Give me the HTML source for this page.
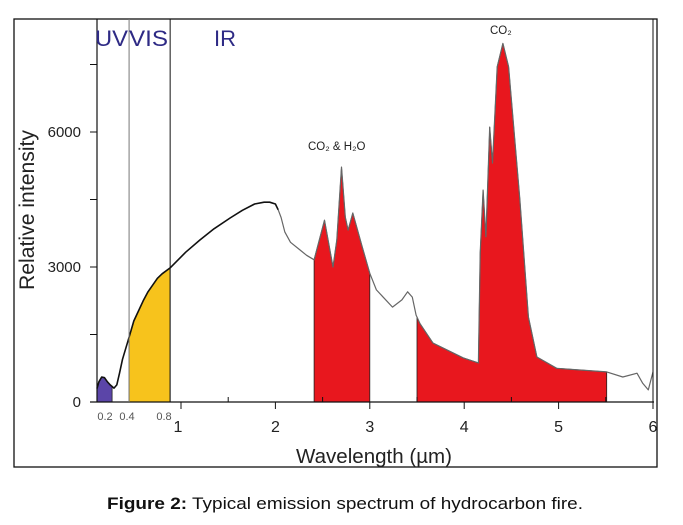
<!DOCTYPE html>
<html><head><meta charset="utf-8"><style>
body{margin:0;background:#fff;width:683px;height:525px;overflow:hidden;font-family:"Liberation Sans",Arial,sans-serif}
svg{position:absolute;left:0;top:0}
</style></head><body>
<svg id="chart" width="683" height="525" viewBox="0 0 683 525" xmlns="http://www.w3.org/2000/svg">
<rect x="14" y="19" width="643" height="448" fill="none" stroke="#111" stroke-width="1.3"/>
<g id="fills"></g>
<g id="curve"></g>
<g id="axes"></g>
<text x="95" y="46" font-size="22" fill="#2e2a85" textLength="33" lengthAdjust="spacingAndGlyphs">UV</text>
<text x="129" y="46" font-size="22" fill="#2e2a85" textLength="39" lengthAdjust="spacingAndGlyphs">VIS</text>
<text x="214" y="46" font-size="22" fill="#2e2a85">IR</text>
<text x="308" y="150" font-size="11.5" fill="#222">CO₂ &amp; H₂O</text>
<text x="490" y="34" font-size="11.5" fill="#222">CO₂</text>
<text transform="translate(34,210) rotate(-90)" text-anchor="middle" font-size="21" fill="#222" textLength="160" lengthAdjust="spacingAndGlyphs">Relative intensity</text>
<text x="374" y="463" text-anchor="middle" font-size="20" fill="#222" textLength="156" lengthAdjust="spacingAndGlyphs">Wavelength (µm)</text>
<text x="107" y="509" font-size="17" fill="#111" textLength="476" lengthAdjust="spacingAndGlyphs"><tspan font-weight="bold">Figure 2:</tspan> Typical emission spectrum of hydrocarbon fire.</text>
</svg>
<script>
const wl=[0.11,0.13,0.16,0.19,0.22,0.25,0.29,0.32,0.35,0.38,0.45,0.5,0.6,0.65,0.75,0.8,0.885,1.05,1.2,1.35,1.52,1.65,1.78,1.88,1.94,2.0,2.03,2.06,2.1,2.16,2.26,2.33,2.41,2.52,2.61,2.65,2.70,2.74,2.77,2.82,2.92,3.0,3.07,3.24,3.34,3.40,3.45,3.49,3.53,3.67,3.99,4.15,4.17,4.20,4.23,4.27,4.30,4.35,4.41,4.47,4.59,4.68,4.77,4.98,5.51,5.68,5.83,5.89,5.95,6.0];
const intensity=[300,450,555,540,450,380,310,380,650,950,1440,1800,2250,2450,2750,2850,2980,3330,3600,3850,4090,4260,4400,4440,4440,4400,4270,4100,3780,3550,3380,3260,3160,4040,3000,3600,5220,4110,3820,4200,3450,2860,2490,2110,2270,2450,2330,1930,1750,1310,980,870,3310,4710,3670,6110,5310,7450,7970,7450,4490,1890,1000,750,670,555,640,420,270,670];
const bands=[[0.11,0.27,'#5b45a8','uv-band-fill'],[0.45,0.885,'#f7c31c','vis-band-fill'],[2.41,3.0,'#e8171e','co2-h2o-band-fill'],[3.5,5.51,'#e8171e','co2-band-fill']];
const yTicks=[0,3000,6000];
const xTicks=[1,2,3,4,5,6];
const xSmall=[[0.2,105],[0.4,127],[0.8,164]];
const NS='http://www.w3.org/2000/svg';
const X=v=>86.6+v*94.4, Y=v=>402-v*0.045;
function interp(x){for(let i=0;i<wl.length-1;i++){if(x>=wl[i]&&x<=wl[i+1]){const t=(x-wl[i])/(wl[i+1]-wl[i]);return intensity[i]+t*(intensity[i+1]-intensity[i]);}}return 0;}
function mk(tag,attrs,parent){const e=document.createElementNS(NS,tag);for(const k in attrs)e.setAttribute(k,attrs[k]);parent.appendChild(e);return e;}
const fills=document.getElementById('fills');
bands.forEach(b=>{let pts=[[b[0],0],[b[0],interp(b[0])]];wl.forEach((w,i)=>{if(w>b[0]&&w<b[1])pts.push([w,intensity[i]]);});pts.push([b[1],interp(b[1])],[b[1],0]);
const p=mk('polygon',{points:pts.map(q=>X(q[0]).toFixed(1)+','+Y(q[1]).toFixed(1)).join(' '),fill:b[2],stroke:'#222','stroke-width':0.8,'stroke-linejoin':'round'},fills);

});
const curve=document.getElementById('curve');
let blk=[],gry=[];wl.forEach((w,i)=>{const s=X(w).toFixed(1)+','+Y(intensity[i]).toFixed(1);if(w<=2.03)blk.push(s);if(w>=2.03)gry.push(s);});
const l1=mk('polyline',{points:blk.join(' '),fill:'none',stroke:'#111','stroke-width':1.6,'stroke-linejoin':'round'},curve);


const l2=mk('polyline',{points:gry.join(' '),fill:'none',stroke:'#666','stroke-width':1.2,'stroke-linejoin':'round'},curve);


const ax=document.getElementById('axes');
const ya=mk('line',{x1:97,y1:19,x2:97,y2:402,stroke:'#111','stroke-width':1.2},ax);


const xa=mk('line',{x1:90,y1:402,x2:654,y2:402,stroke:'#111','stroke-width':1.2},ax);


[[X(0.45),'#777'],[X(0.885),'#111']].forEach(v=>{const d=mk('line',{x1:v[0],y1:19,x2:v[0],y2:402,stroke:v[1],'stroke-width':1},ax);

});
mk('line',{x1:653,y1:19,x2:653,y2:402,stroke:'#111','stroke-width':1},ax);
for(let v=0;v<=7500;v+=1500){mk('line',{x1:90,y1:Y(v),x2:97,y2:Y(v),stroke:'#111'},ax);}
yTicks.forEach(v=>{const t=mk('text',{x:81,y:Y(v)+5,'text-anchor':'end','font-size':15,fill:'#222'},ax);t.textContent=v;

});
for(let v=1;v<=6;v+=0.5){mk('line',{x1:X(v),y1:402,x2:X(v),y2:v%1?397:402,stroke:'#111'},ax);mk('line',{x1:X(v),y1:402,x2:X(v),y2:v%1?402:409,stroke:'#111'},ax);}
xTicks.forEach(v=>{const t=mk('text',{x:X(v)+(v==1?-3:0),y:432,'text-anchor':'middle','font-size':16,fill:'#222'},ax);t.textContent=v;

});
xSmall.forEach(s=>{const t=mk('text',{x:s[1],y:420,'text-anchor':'middle','font-size':11,fill:'#555'},ax);t.textContent=s[0];

});
</script>
</body></html>
